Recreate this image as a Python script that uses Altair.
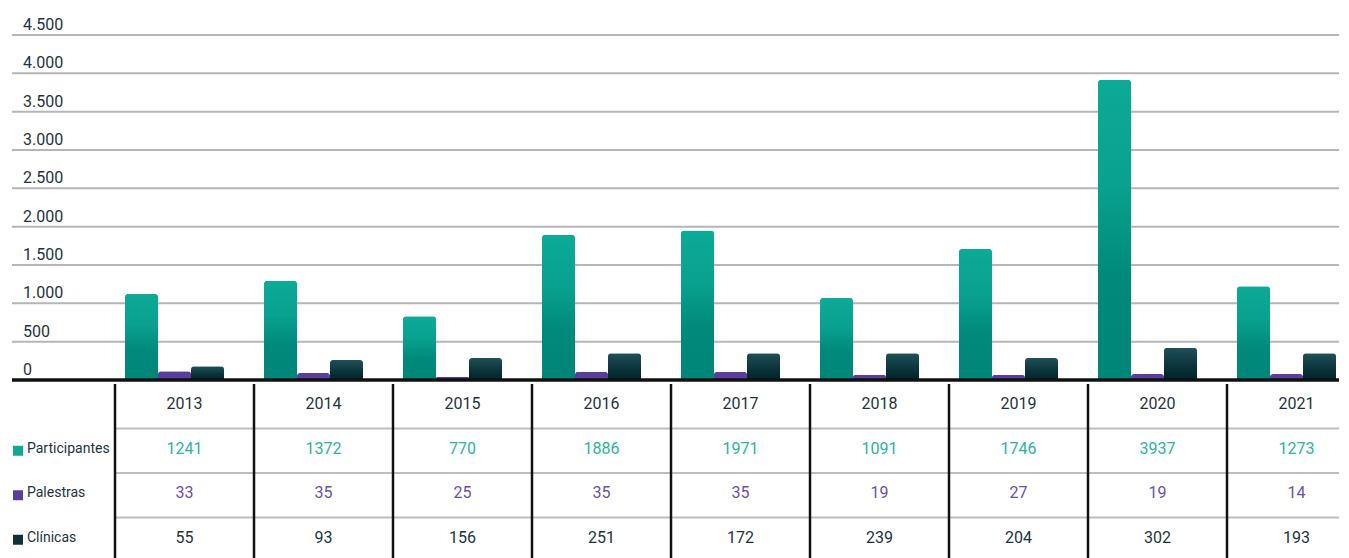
import altair as alt
import pandas as pd

years = ["2013", "2014", "2015", "2016", "2017", "2018", "2019", "2020", "2021"]
series = ["Participantes", "Palestras", "Clínicas"]

# bar heights as drawn in the picture
bar_participantes = [1123, 1296, 831, 1893, 1949, 1070, 1710, 3916, 1223]
bar_palestras = [113, 91, 43, 109, 109, 69, 65, 78, 78]
bar_clinicas = [179, 261, 287, 348, 348, 348, 287, 422, 348]

# values printed in the table
tbl_participantes = [1241, 1372, 770, 1886, 1971, 1091, 1746, 3937, 1273]
tbl_palestras = [33, 35, 25, 35, 35, 19, 27, 19, 14]
tbl_clinicas = [55, 93, 156, 251, 172, 239, 204, 302, 193]

y_ticks = [0, 500, 1000, 1500, 2000, 2500, 3000, 3500, 4000, 4500]
y_tick_labels = ["0", "500", "1.000", "1.500", "2.000", "2.500", "3.000", "3.500", "4.000", "4.500"]

STEP = 139
FULL = STEP * len(years)   # scale range (last column runs past the page edge)
W = 1224                   # visible plot width
H_TOP = 345
H_TBL = 178
LEFT = -103
FONT = "Roboto"
DARK = "#1d3440"
TEAL_TXT = "#2bb3a0"
PURPLE_TXT = "#6a4fae"
SQ_COLORS = ["#12a893", "#5a3e9c", "#0f3238"]

bars_df = pd.DataFrame(
    [{"year": y, "series": s, "value": v}
     for s, vals in zip(series, [bar_participantes, bar_palestras, bar_clinicas])
     for y, v in zip(years, vals)]
)
grid_df = pd.DataFrame({"v": y_ticks, "label": y_tick_labels})

xscale = alt.Scale(domain=years, paddingInner=0, paddingOuter=0, range=[0, FULL])
yscale = alt.Scale(domain=[0, 4500], nice=False, zero=True)
offscale = alt.Scale(domain=series, paddingInner=0, paddingOuter=0.606, align=0.25)

grid = alt.Chart(grid_df).transform_filter("datum.v > 0").mark_rule(
    color="#b5b5ba", strokeWidth=2
).encode(
    y=alt.Y("v:Q", scale=yscale, axis=None),
    x=alt.value(LEFT),
    x2=alt.value(W),
)

ylabels = alt.Chart(grid_df).mark_text(
    align="left", baseline="alphabetic", dy=-5, font=FONT, fontSize=16, color=DARK
).encode(
    y=alt.Y("v:Q", scale=yscale, axis=None),
    x=alt.value(LEFT + 11),
    text="label:N",
)

gradients = {
    "Participantes": alt.Gradient(
        gradient="linear", x1=0, x2=0, y1=0, y2=1,
        stops=[alt.GradientStop(color="#0caa97", offset=0),
               alt.GradientStop(color="#09a18f", offset=0.35),
               alt.GradientStop(color="#008a7c", offset=0.65),
               alt.GradientStop(color="#008579", offset=1)],
    ),
    "Palestras": "#5a3e9c",
    "Clínicas": alt.Gradient(
        gradient="linear", x1=0, x2=0, y1=0, y2=1,
        stops=[alt.GradientStop(color="#215058", offset=0),
               alt.GradientStop(color="#0a3339", offset=0.6),
               alt.GradientStop(color="#00232a", offset=1)],
    ),
}

bar_layers = []
for s in series:
    bar_layers.append(
        alt.Chart(bars_df).transform_filter(alt.datum.series == s).mark_bar(
            fill=gradients[s], cornerRadiusTopLeft=3, cornerRadiusTopRight=3
        ).encode(
            x=alt.X("year:N", scale=xscale, axis=None),
            xOffset=alt.XOffset("series:N", scale=offscale),
            y=alt.Y("value:Q", scale=yscale, axis=None),
        )
    )

baseline = alt.Chart(pd.DataFrame({"v": [0]})).mark_rule(color="#111111", strokeWidth=3.5).encode(
    y=alt.Y("v:Q", scale=yscale, axis=None),
    x=alt.value(LEFT),
    x2=alt.value(W),
)

top = alt.layer(grid, ylabels, *bar_layers, baseline).properties(width=W, height=H_TOP)

# ---- table ----
rows = ["header"] + series
row_colors = [DARK, TEAL_TXT, PURPLE_TXT, DARK]
tbl_records = []
for y in years:
    tbl_records.append({"year": y, "row": "header", "text": y})
for s, vals in zip(series, [tbl_participantes, tbl_palestras, tbl_clinicas]):
    for y, v in zip(years, vals):
        tbl_records.append({"year": y, "row": s, "text": str(v)})
tbl_df = pd.DataFrame(tbl_records)

rowscale = alt.Scale(domain=rows, paddingInner=0, paddingOuter=0)

cells = alt.Chart(tbl_df).mark_text(font=FONT, fontSize=16, baseline="middle", dy=-2).encode(
    x=alt.X("year:N", scale=xscale, axis=None),
    y=alt.Y("row:N", scale=rowscale, axis=None),
    text="text:N",
    color=alt.Color("row:N", scale=alt.Scale(domain=rows, range=row_colors), legend=None),
)

hlines = alt.Chart(pd.DataFrame({"row": series})).mark_rule(color="#bdbdc2", strokeWidth=2).encode(
    y=alt.Y("row:N", scale=rowscale, axis=None, bandPosition=0),
    x=alt.value(0),
    x2=alt.value(W),
)

vlines = alt.Chart(pd.DataFrame({"year": years})).mark_rule(color="#111111", strokeWidth=2.5).encode(
    x=alt.X("year:N", scale=xscale, axis=None, bandPosition=0),
    y=alt.value(0),
    y2=alt.value(H_TBL),
)

series_df = pd.DataFrame({"row": series})
squares = alt.Chart(series_df).mark_square(size=100, opacity=1, dy=-2).encode(
    y=alt.Y("row:N", scale=rowscale, axis=None),
    x=alt.value(LEFT + 6),
    color=alt.Color("row:N", scale=alt.Scale(domain=series, range=SQ_COLORS), legend=None),
)

row_labels = alt.Chart(series_df).mark_text(
    align="left", baseline="middle", font=FONT, fontSize=14, color=DARK, dy=-2
).encode(
    y=alt.Y("row:N", scale=rowscale, axis=None),
    x=alt.value(LEFT + 15),
    text="row:N",
)

table = alt.layer(hlines, vlines, cells, squares, row_labels).resolve_scale(color="independent").properties(
    width=W, height=H_TBL
)

chart = alt.vconcat(top, table, spacing=0).resolve_scale(color="independent").properties(
    padding={"left": 2, "top": 9, "right": 0, "bottom": 0}
).configure_view(stroke=None)

chart.save("out.html", embed_options={"renderer": "svg", "actions": False})
